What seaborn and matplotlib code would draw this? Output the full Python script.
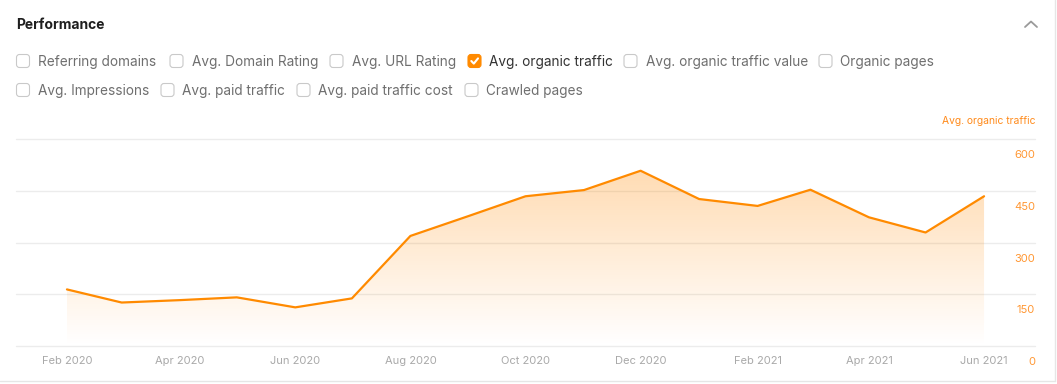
import numpy as np
import pandas as pd
import seaborn as sns
import matplotlib.pyplot as plt
import matplotlib.dates as mdates
from matplotlib.patches import FancyBboxPatch
from matplotlib.lines import Line2D
from matplotlib.transforms import ScaledTranslation

sns.set_theme(style="white")
plt.rcParams["font.family"] = ["Inter", "DejaVu Sans"]

# data
months = pd.date_range("2020-02-01", "2021-06-01", freq="MS")
organic_traffic = [164, 126, 133, 141, 112, 138, 319, 377, 434,
                   452, 508, 426, 406, 453, 373, 329, 434]
y_ticks = [0, 150, 300, 450, 600]
metrics_row1 = ["Referring domains", "Avg. Domain Rating", "Avg. URL Rating",
                "Avg. organic traffic", "Avg. organic traffic value", "Organic pages"]
metrics_row2 = ["Avg. Impressions", "Avg. paid traffic", "Avg. paid traffic cost",
                "Crawled pages"]
checked = "Avg. organic traffic"

ORANGE = "#FF8A00"
W, H = 1057, 384
fig = plt.figure(figsize=(W / 100, H / 100), dpi=100)
fig.patch.set_facecolor("white")
px = fig.dpi_scale_trans  # inches; pixel / 100


def P(x, y):
    # pixel from top-left -> inches from bottom-left
    return x / 100, (H - y) / 100


# ---- header -----------------------------------------------------------------
fig.text(*P(16, 25), "Performance", transform=px, fontsize=10, fontweight="bold",
         color="#1f1f1f", va="center", ha="left")
fig.add_artist(Line2D([1025 / 100, 1031 / 100, 1037 / 100],
                      [(H - 27) / 100, (H - 21.5) / 100, (H - 27) / 100],
                      transform=px, color="#9a9a9a", lw=1.3, solid_capstyle="round"))


def checkbox_row(labels, lefts, y):
    for lab, x in zip(labels, lefts):
        on = lab == checked
        box = FancyBboxPatch(P(x, y + 6.5), 0.13, 0.13,
                             boxstyle="round,pad=0,rounding_size=0.03",
                             transform=px, facecolor=ORANGE if on else "white",
                             edgecolor=ORANGE if on else "#c9c9c9", lw=0.8)
        fig.add_artist(box)
        if on:
            fig.add_artist(Line2D([(x + 3.3) / 100, (x + 5.8) / 100, (x + 10) / 100],
                                  [(H - y) / 100, (H - y - 2.6) / 100, (H - y + 2.6) / 100],
                                  transform=px, color="white", lw=1.5,
                                  solid_capstyle="round", solid_joinstyle="round"))
        fig.text(*P(x + 21.5, y + 0.8), lab, transform=px, fontsize=9.8,
                 color="#333333" if on else "#6f6f6f", va="center", ha="left")


checkbox_row(metrics_row1, [16.5, 170, 330, 468, 624, 819], 61)
checkbox_row(metrics_row2, [16.5, 161, 297, 465], 90)

# panel border
fig.add_artist(Line2D([0, 1055 / 100], [(H - 381) / 100] * 2, transform=px,
                      color="#e6e6e6", lw=1))
fig.add_artist(Line2D([1055 / 100] * 2, [(H - 381) / 100, H / 100], transform=px,
                      color="#e6e6e6", lw=1))

# ---- chart ------------------------------------------------------------------
ax = fig.add_axes([16 / W, (H - 346) / H, (1035 - 16) / W, (346 - 139) / H])
ax.set_facecolor("none")

sns.lineplot(x=months, y=organic_traffic, color=ORANGE, linewidth=1.6, ax=ax, zorder=3)

# gradient area under the line
poly = ax.fill_between(months, organic_traffic, 0, color="none", lw=0)
xnum = mdates.date2num(months)
top = max(organic_traffic)
grad = np.zeros((256, 1, 4))
grad[:, 0, :3] = [1.0, 0.54, 0.0]
grad[:, 0, 3] = np.linspace(0.30, 0.0, 256)
im = ax.imshow(grad, extent=[xnum[0], xnum[-1], 0, top], aspect="auto",
               origin="upper", zorder=1)
im.set_clip_path(poly.get_paths()[0], transform=ax.transData)

pad = pd.Timedelta(days=27)
ax.set_xlim(months[0] - pad, months[-1] + pad)
ax.set_ylim(0, 600)
ax.set_yticks(y_ticks)
ax.set_yticklabels([str(v) for v in y_ticks])
ax.xaxis.set_major_locator(mdates.MonthLocator(bymonth=[2, 4, 6, 8, 10, 12]))
ax.xaxis.set_major_formatter(mdates.DateFormatter("%b %Y"))

for s in ax.spines.values():
    s.set_visible(False)
ax.grid(axis="y", color="#ececec", lw=1)
ax.grid(axis="x", visible=False)
for gl in ax.get_ygridlines():
    gl.set_clip_on(False)

ax.yaxis.tick_right()
ax.tick_params(axis="y", length=0, pad=0, labelsize=8, labelcolor="#ff9733")
ax.tick_params(axis="x", length=0, pad=7.5, labelsize=8, labelcolor="#a9a9a9")
ax.set_xlabel("")
ax.set_ylabel("")
shift = ScaledTranslation(0, -15 / 100, fig.dpi_scale_trans)
for lbl in ax.get_yticklabels():
    lbl.set_horizontalalignment("right")
    lbl.set_transform(lbl.get_transform() + shift)

ax.set_title("Avg. organic traffic", loc="right", fontsize=7.4, color="#ff8a1a", pad=10.5)

fig.savefig("out.png", dpi=100, facecolor="white")
